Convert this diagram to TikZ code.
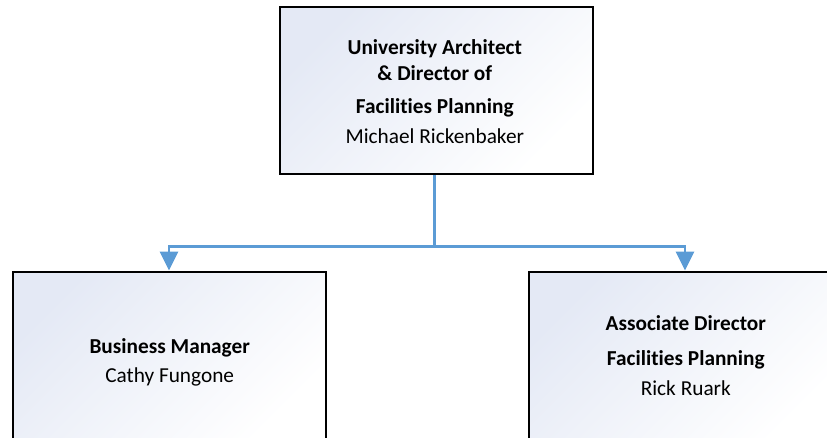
\documentclass[tikz,border=0pt]{standalone}
\usepackage{fontspec}
\setmainfont{Carlito}[Ligatures={NoCommon,NoContextual}]
\usetikzlibrary{arrows.meta}
\definecolor{conn}{HTML}{5B9BD5}
\definecolor{boxtint}{HTML}{E4E9F5}
\tikzset{
  orgbox/.style={draw=black, line width=2pt, minimum width=313pt, minimum height=167pt,
    inner sep=0pt, top color=boxtint, bottom color=white, shading angle=45},
  ttl/.style={anchor=base, font=\fontsize{21.3}{24}\selectfont\bfseries, inner sep=0pt},
  nm/.style={anchor=base, font=\fontsize{21.3}{24}\selectfont, inner sep=0pt},
  connline/.style={draw=conn, line width=2.8pt, -{Triangle[length=19pt,width=18pt]}},
}
\begin{document}
\begin{tikzpicture}
\useasboundingbox (0pt,0pt) rectangle (827pt,-437pt);
\begin{scope}
\clip (0pt,0pt) rectangle (827pt,-437pt);
\node[orgbox] (top) at (436pt,-90.4pt) {};
\node[orgbox] (left) at (169pt,-355pt) {};
\node[orgbox] (right) at (685pt,-355pt) {};
\coordinate (bus) at ([xshift=-1.3pt]top.south |- 0,-246.7pt);
\coordinate (topout) at ([xshift=-1.3pt]top.south);
\draw[connline] (topout) -- (bus) -| (left.north);
\draw[connline] (bus) -| (right.north);
\end{scope}
\node[ttl] (t1) at (434.8pt,-54pt) {University Architect};
\node[ttl] (t2) at (434.8pt,-80pt) {\& Director of};
\node[ttl] (t3) at (434.8pt,-113.3pt) {Facilities Planning};
\node[nm] (t4) at (434.8pt,-143.3pt) {Michael Rickenbaker};
\node[ttl] (l1) at (169.7pt,-353.3pt) {Business Manager};
\node[nm] (l2) at (169.7pt,-382.3pt) {Cathy Fungone};
\node[ttl] (r1) at (685.8pt,-330pt) {Associate Director};
\node[ttl] (r2) at (685.8pt,-365pt) {Facilities Planning};
\node[nm] (r3) at (685.8pt,-395pt) {Rick Ruark};
\end{tikzpicture}
\end{document}
